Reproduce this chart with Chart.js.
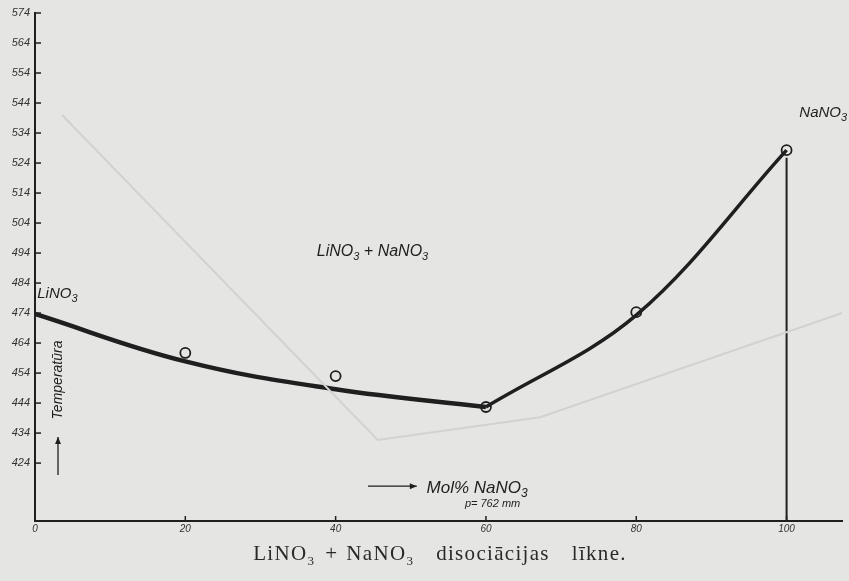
<!DOCTYPE html>
<html lang="lv">
<head>
  <meta charset="UTF-8">
  <title>LiNO3 + NaNO3 disociācijas līkne</title>
  <style>
    body {
      margin: 0;
      padding: 0;
      background-color: #e5e5e3;
    }
    #wrap {
      position: relative;
      width: 849px;
      height: 581px;
    }
    #chart {
      position: absolute;
      left: 0;
      top: 0;
    }
    /* caption under the plot */
    .caption {
      position: absolute;
      left: 0;
      width: 880px;
      top: 541px;
      text-align: center;
      font-family: "Liberation Serif", "DejaVu Serif", serif;
      font-size: 21px;
      letter-spacing: 1.3px;
      color: #2a2a2a;
      white-space: nowrap;
    }
    .caption sub {
      font-size: 13px;
    }
    .caption .w {
      margin-left: 22px;
    }
    .caption .p {
      margin: 0 8px 0 10px;
    }
  </style>
  <script src="https://cdn.jsdelivr.net/npm/chart.js"></script>
</head>
<body>
  <div id="wrap">
    <canvas id="chart" width="849" height="581"></canvas>
    <div class="caption">LiNO<sub>3</sub><span class="p">+</span>NaNO<sub>3</sub><span class="w">disociācijas</span><span class="w">līkne.</span></div>
  </div>

  <script>
    // measured points (Mol% NaNO3 -> temperature)
    const pointX = [20, 40, 60, 80, 100];
    const pointY = [460.7, 453, 442.7, 474.3, 528.3];

    // hand-drawn curve, two branches meeting at the minimum
    const leftX = [0, 20, 40, 60];
    const leftY = [473.7, 457.9, 448.6, 442.7];
    const rightX = [60, 80, 100];
    const rightY = [442.7, 473.3, 528.3];

    // vertical line at pure NaNO3
    const wallX = [100, 100];
    const wallY = [525.8, 404.7];

    // faint show-through line from the back of the page
    const ghostX = [3.6, 45.6, 67.2, 107.4];
    const ghostY = [540, 431.7, 439.3, 474];

    const xTicks = [0, 20, 40, 60, 80, 100];
    const yTicks = [424, 434, 444, 454, 464, 474, 484, 494, 504, 514, 524, 534, 544, 554, 564, 574];

    const INK = '#1f1f1f';
    const BG = '#e5e5e3';

    function pts(xs, ys) {
      return xs.map((x, i) => ({ x: x, y: ys[i] }));
    }

    // text with subscript 3 (parts: [text, isSub])
    function chem(ctx, parts, x, y, size) {
      let cx = x;
      parts.forEach(p => {
        if (p[1]) {
          ctx.font = 'italic ' + Math.round(size * 0.7) + 'px "Liberation Sans", Arial, sans-serif';
          ctx.fillText(p[0], cx, y + size * 0.25);
        } else {
          ctx.font = 'italic ' + size + 'px "Liberation Sans", Arial, sans-serif';
          ctx.fillText(p[0], cx, y);
        }
        cx += ctx.measureText(p[0]).width;
      });
    }

    const decor = {
      id: 'decor',
      afterDraw(chart) {
        const ctx = chart.ctx;
        const xs = chart.scales.x;
        const ys = chart.scales.y;
        const x0 = xs.left;
        const yb = ys.bottom;
        ctx.save();
        ctx.strokeStyle = INK;
        ctx.fillStyle = INK;

        // inward tick marks
        ctx.lineWidth = 1.5;
        yTicks.forEach(v => {
          const py = ys.getPixelForValue(v);
          ctx.beginPath();
          ctx.moveTo(x0, py);
          ctx.lineTo(x0 + 6, py);
          ctx.stroke();
        });
        xTicks.slice(1).forEach(v => {
          const px = xs.getPixelForValue(v);
          ctx.beginPath();
          ctx.moveTo(px, yb);
          ctx.lineTo(px, yb - 5);
          ctx.stroke();
        });

        ctx.textBaseline = 'alphabetic';
        ctx.textAlign = 'left';

        // component labels
        chem(ctx, [['LiNO', false], ['3', true]], xs.getPixelForValue(0.3), ys.getPixelForValue(479), 15);
        chem(ctx, [['NaNO', false], ['3', true]], xs.getPixelForValue(101.7), ys.getPixelForValue(539.3), 15);
        chem(ctx, [['LiNO', false], ['3', true], [' + NaNO', false], ['3', true]],
          xs.getPixelForValue(37.5), ys.getPixelForValue(493), 16);

        // x axis description
        const ax = ys.getPixelForValue(416.3);
        ctx.lineWidth = 1.3;
        ctx.beginPath();
        ctx.moveTo(xs.getPixelForValue(44.3), ax);
        ctx.lineTo(xs.getPixelForValue(50.8), ax);
        ctx.stroke();
        ctx.beginPath();
        ctx.moveTo(xs.getPixelForValue(50.8), ax);
        ctx.lineTo(xs.getPixelForValue(50.8) - 7, ax - 3);
        ctx.lineTo(xs.getPixelForValue(50.8) - 7, ax + 3);
        ctx.closePath();
        ctx.fill();
        chem(ctx, [['Mol% NaNO', false], ['3', true]], xs.getPixelForValue(52.1), ys.getPixelForValue(414), 17);
        ctx.font = 'italic 11px "Liberation Sans", Arial, sans-serif';
        ctx.fillText('p= 762 mm', xs.getPixelForValue(57.2), ys.getPixelForValue(409.3));

        // y axis description
        const tx = xs.getPixelForValue(3.06);
        ctx.save();
        ctx.translate(tx, ys.getPixelForValue(451.7));
        ctx.rotate(-Math.PI / 2);
        ctx.textAlign = 'center';
        ctx.textBaseline = 'middle';
        ctx.font = 'italic 14px "Liberation Sans", Arial, sans-serif';
        ctx.fillText('Temperatūra', 0, 0);
        ctx.restore();
        const ay1 = ys.getPixelForValue(420);
        const ay2 = ys.getPixelForValue(432.7);
        ctx.beginPath();
        ctx.moveTo(tx, ay1);
        ctx.lineTo(tx, ay2);
        ctx.stroke();
        ctx.beginPath();
        ctx.moveTo(tx, ay2);
        ctx.lineTo(tx - 3, ay2 + 7);
        ctx.lineTo(tx + 3, ay2 + 7);
        ctx.closePath();
        ctx.fill();

        ctx.restore();
      }
    };

    new Chart(document.getElementById('chart'), {
      type: 'line',
      data: {
        datasets: [
          {
            data: pts(ghostX, ghostY),
            borderColor: '#d2d2d0',
            borderWidth: 2,
            tension: 0,
            pointRadius: 0
          },
          {
            data: pts(leftX, leftY),
            borderColor: INK,
            borderWidth: 4.5,
            tension: 0.4,
            pointRadius: 0
          },
          {
            data: pts(rightX, rightY),
            borderColor: INK,
            borderWidth: 3.5,
            tension: 0.35,
            pointRadius: 0
          },
          {
            data: pts(wallX, wallY),
            borderColor: INK,
            borderWidth: 2,
            pointRadius: 0
          },
          {
            data: pts(pointX, pointY),
            showLine: false,
            pointRadius: 5,
            pointBorderWidth: 1.8,
            pointBorderColor: INK,
            pointBackgroundColor: BG
          }
        ]
      },
      options: {
        responsive: false,
        animation: false,
        plugins: {
          legend: { display: false },
          tooltip: { enabled: false }
        },
        layout: {
          padding: { top: 13, right: 6, left: 0, bottom: 0 }
        },
        scales: {
          x: {
            type: 'linear',
            min: 0,
            max: 107.4,
            afterBuildTicks: (s) => { s.ticks = xTicks.map(v => ({ value: v })); },
            afterFit: (s) => { s.height = 60; },
            grid: { display: false, drawTicks: false },
            border: { display: true, color: INK, width: 2 },
            ticks: {
              padding: 2,
              maxRotation: 0,
              color: '#333',
              font: { family: '"Liberation Sans", Arial, sans-serif', style: 'italic', size: 10 }
            }
          },
          y: {
            type: 'linear',
            min: 404.7,
            max: 574,
            afterBuildTicks: (s) => { s.ticks = yTicks.map(v => ({ value: v })); },
            afterFit: (s) => { s.width = 35; },
            grid: { display: false, drawTicks: false },
            border: { display: true, color: INK, width: 2 },
            ticks: {
              padding: 5,
              color: '#333',
              font: { family: '"Liberation Sans", Arial, sans-serif', style: 'italic', size: 11 }
            }
          }
        }
      },
      plugins: [decor]
    });
  </script>
</body>
</html>
